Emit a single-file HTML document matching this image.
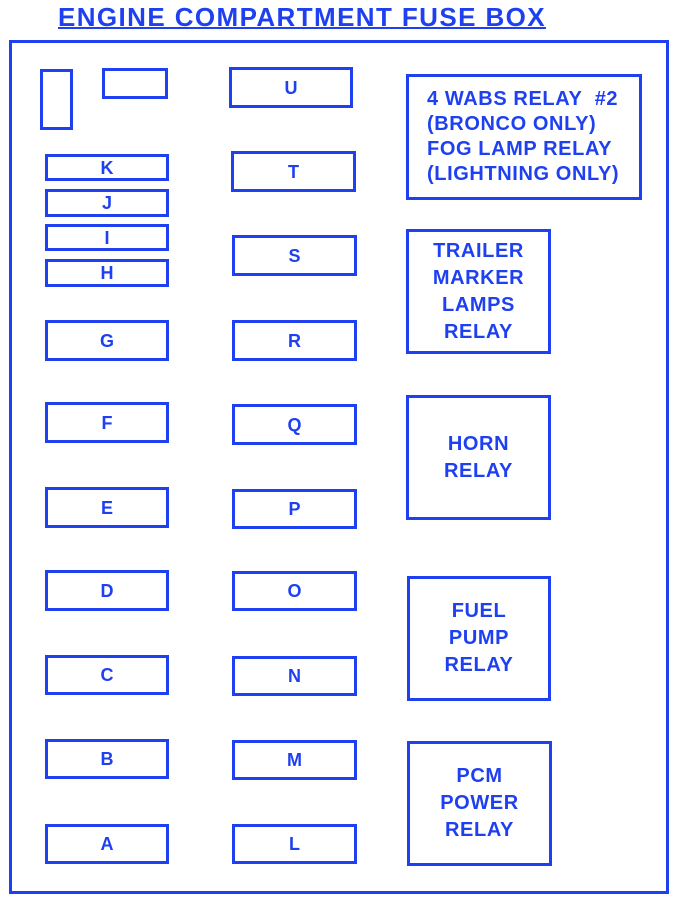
<!DOCTYPE html>
<html><head><meta charset="utf-8"><style>
html,body{margin:0;padding:0;background:#fff;}
body{width:692px;height:908px;position:relative;overflow:hidden;font-family:"Liberation Sans",Arial,sans-serif;font-weight:bold;color:#1e40f0;}
.b{position:absolute;box-sizing:border-box;border:3px solid #1e40f0;display:flex;align-items:center;justify-content:center;text-align:center;font-size:18px;line-height:1;}
.r{font-size:20px;letter-spacing:0.6px;line-height:27px;flex-direction:column;}
.t{position:absolute;left:58px;top:2px;font-size:26px;text-decoration:underline;text-decoration-thickness:2px;letter-spacing:1.4px;white-space:nowrap;}
</style></head><body>
<div class="t">ENGINE COMPARTMENT FUSE BOX</div>
<div class="b" style="left:9px;top:40px;width:660px;height:854px;"></div>
<div class="b" style="left:40px;top:69px;width:33px;height:61px;"></div>
<div class="b" style="left:102px;top:68px;width:66px;height:31px;"></div>

<div class="b" style="left:45px;top:154px;width:124px;height:27px;">K</div>
<div class="b" style="left:45px;top:189px;width:124px;height:28px;">J</div>
<div class="b" style="left:45px;top:224px;width:124px;height:27px;">I</div>
<div class="b" style="left:45px;top:259px;width:124px;height:28px;">H</div>
<div class="b" style="left:45px;top:320px;width:124px;height:41px;">G</div>
<div class="b" style="left:45px;top:402px;width:124px;height:41px;">F</div>
<div class="b" style="left:45px;top:487px;width:124px;height:41px;">E</div>
<div class="b" style="left:45px;top:570px;width:124px;height:41px;">D</div>
<div class="b" style="left:45px;top:655px;width:124px;height:40px;">C</div>
<div class="b" style="left:45px;top:739px;width:124px;height:40px;">B</div>
<div class="b" style="left:45px;top:824px;width:124px;height:40px;">A</div>

<div class="b" style="left:229px;top:67px;width:124px;height:41px;">U</div>
<div class="b" style="left:231px;top:151px;width:125px;height:41px;">T</div>
<div class="b" style="left:232px;top:235px;width:125px;height:41px;">S</div>
<div class="b" style="left:232px;top:320px;width:125px;height:41px;">R</div>
<div class="b" style="left:232px;top:404px;width:125px;height:41px;">Q</div>
<div class="b" style="left:232px;top:489px;width:125px;height:40px;">P</div>
<div class="b" style="left:232px;top:571px;width:125px;height:40px;">O</div>
<div class="b" style="left:232px;top:656px;width:125px;height:40px;">N</div>
<div class="b" style="left:232px;top:740px;width:125px;height:40px;">M</div>
<div class="b" style="left:232px;top:824px;width:125px;height:40px;">L</div>

<div class="b r" style="left:406px;top:74px;width:236px;height:126px;line-height:25px;align-items:flex-start;padding-left:18px;text-align:left;font-size:20px;white-space:nowrap;"><div>4 WABS RELAY&nbsp; #2</div><div>(BRONCO ONLY)</div><div>FOG LAMP RELAY</div><div>(LIGHTNING ONLY)</div></div>
<div class="b r" style="left:406px;top:229px;width:145px;height:125px;"><div>TRAILER</div><div>MARKER</div><div>LAMPS</div><div>RELAY</div></div>
<div class="b r" style="left:406px;top:395px;width:145px;height:125px;"><div>HORN</div><div>RELAY</div></div>
<div class="b r" style="left:407px;top:576px;width:144px;height:125px;"><div>FUEL</div><div>PUMP</div><div>RELAY</div></div>
<div class="b r" style="left:407px;top:741px;width:145px;height:125px;"><div>PCM</div><div>POWER</div><div>RELAY</div></div>
</body></html>
